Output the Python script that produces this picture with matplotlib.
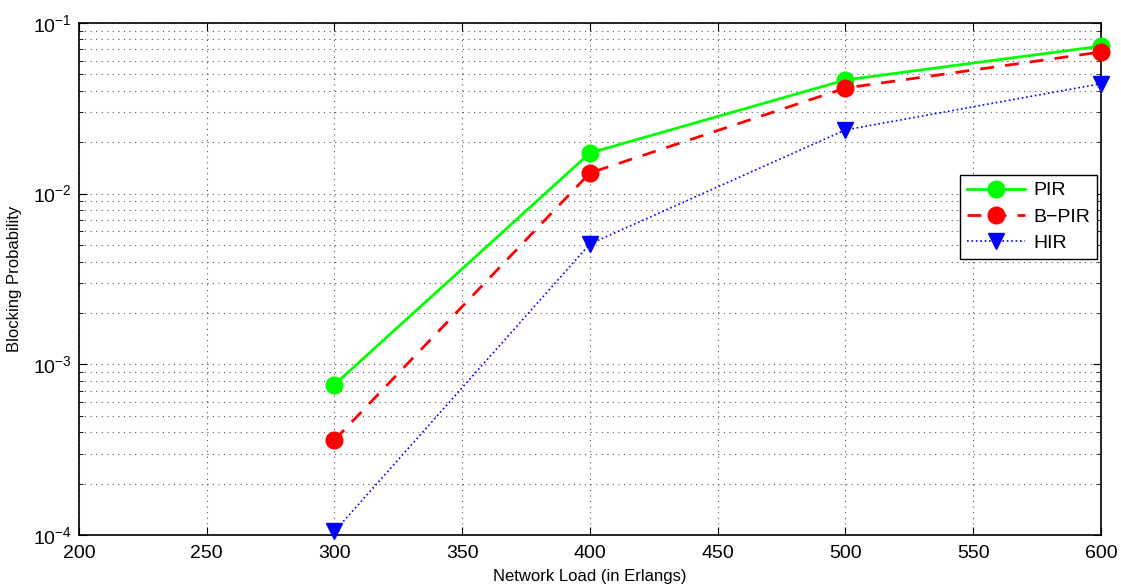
import matplotlib
matplotlib.use('Agg')
import matplotlib.pyplot as plt
from matplotlib.ticker import LogLocator, NullFormatter, MultipleLocator

plt.rcParams['font.family'] = ['Liberation Sans', 'DejaVu Sans']

# 数据
load = [300, 400, 500, 600]
pir = [7.6e-4, 1.73e-2, 4.63e-2, 7.3e-2]
bpir = [3.6e-4, 1.32e-2, 4.15e-2, 6.75e-2]
hir = [1.05e-4, 5.07e-3, 2.36e-2, 4.4e-2]

fig = plt.figure(figsize=(11.21, 5.86), dpi=100)
ax = fig.add_axes([0.0705, 0.087, 0.9115, 0.874])

ax.semilogy(load, pir, color='#00ff00', linestyle='-', linewidth=2,
            marker='o', markersize=12, label='PIR', clip_on=False, zorder=3)
ax.semilogy(load, bpir, color='#ff0000', linestyle='--', linewidth=2, dashes=(5, 4),
            marker='o', markersize=12, label='B\u2212PIR', clip_on=False, zorder=3)
ax.semilogy(load, hir, color='#0000ff', linestyle=':', linewidth=1.2,
            marker='v', markersize=12, label='HIR', clip_on=False, zorder=3)

ax.set_xlim(200, 600)
ax.set_ylim(1e-4, 1e-1)
ax.xaxis.set_major_locator(MultipleLocator(50))
ax.yaxis.set_major_locator(LogLocator(base=10))
ax.yaxis.set_minor_locator(LogLocator(base=10, subs=range(2, 10)))
ax.yaxis.set_minor_formatter(NullFormatter())

# MATLAB 风格网格
ax.grid(True, which='major', linestyle=(0, (1, 4)), color='#555555', linewidth=0.8)
ax.grid(True, which='minor', axis='y', linestyle=(0, (1, 4)), color='#555555', linewidth=0.8)

ax.tick_params(which='both', direction='in', top=True, right=True, labelsize=14)
ax.tick_params(which='major', length=6)
ax.tick_params(which='minor', length=3)
ax.tick_params(axis='x', pad=7)
ax.tick_params(axis='y', pad=5)
for s in ax.spines.values():
    s.set_linewidth(1.2)

ax.set_xlabel('Network Load (in Erlangs)', fontsize=12, labelpad=5)
ax.set_ylabel('Blocking Probability', fontsize=12, labelpad=8)

leg = ax.legend(loc='lower right', bbox_to_anchor=(0.996, 0.539), fontsize=14,
                fancybox=False, framealpha=1, edgecolor='black',
                handlelength=3.0, handletextpad=0.4, borderpad=0.35,
                labelspacing=0.45, borderaxespad=0)
leg.get_frame().set_linewidth(1.0)

fig.savefig('out.png', dpi=100)
